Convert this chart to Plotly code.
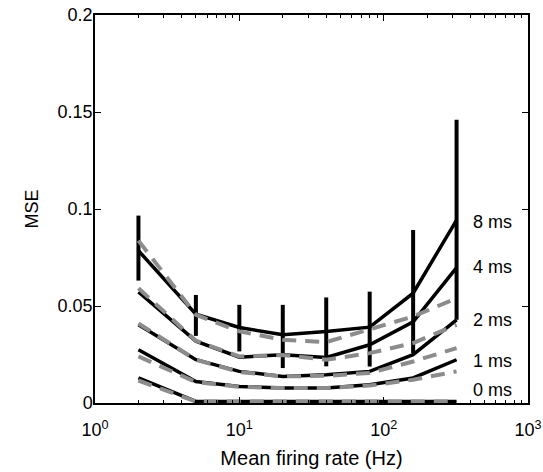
import plotly.graph_objects as go
import numpy as np

# Mean firing rate (Hz)
rate_hz = [2, 5, 10, 20, 40, 80, 160, 320]

# Measured MSE (solid black) for each jitter
mse_8ms = [0.0785, 0.0458, 0.0389, 0.0352, 0.0369, 0.0391, 0.0566, 0.0943]
mse_4ms = [0.0572, 0.0319, 0.0236, 0.0249, 0.0235, 0.0300, 0.0418, 0.0698]
mse_2ms = [0.0403, 0.0223, 0.0163, 0.0137, 0.0146, 0.0163, 0.0249, 0.0429]
mse_1ms = [0.0274, 0.0111, 0.0085, 0.0077, 0.0077, 0.0094, 0.0129, 0.0223]
mse_0ms = [0.0129, 0.0008, 0.0008, 0.0008, 0.0008, 0.0008, 0.0008, 0.0008]

# Model prediction (gray dashed)
fit_8ms = [0.0837, 0.0455, 0.0369, 0.0326, 0.0314, 0.0380, 0.0446, 0.0540]
fit_4ms = [0.0592, 0.0321, 0.0240, 0.0247, 0.0223, 0.0257, 0.0309, 0.0403]
fit_2ms = [0.0410, 0.0223, 0.0160, 0.0137, 0.0140, 0.0155, 0.0214, 0.0283]
fit_1ms = [0.0240, 0.0108, 0.0083, 0.0077, 0.0077, 0.0090, 0.0120, 0.0163]
fit_0ms = [0.0116, 0.0008, 0.0008, 0.0008, 0.0008, 0.0008, 0.0008, 0.0008]

# Error bar extent (8 ms curve)
err_top = [0.0966, 0.0557, 0.0506, 0.0506, 0.0544, 0.0574, 0.0892, 0.1460]
err_bottom = [0.0631, 0.0346, 0.0266, 0.0180, 0.0189, 0.0188, 0.0257, 0.0429]

jitter_labels = ["8 ms", "4 ms", "2 ms", "1 ms", "0 ms"]
label_y = [0.0935, 0.0703, 0.0429, 0.0214, 0.0068]

x_tickvals = [1, 10, 100, 1000]
x_ticktext = ["10<sup>0</sup>", "10<sup>1</sup>", "10<sup>2</sup>", "10<sup>3</sup>"]
y_tickvals = [0, 0.05, 0.1, 0.15, 0.2]
y_ticktext = ["0", "0.05", "0.1", "0.15", "0.2"]

FONT = "Liberation Sans, Arial, Helvetica, sans-serif"
GRAY = "rgb(140,140,140)"

fig = go.Figure()

# error bars
fig.add_trace(go.Scatter(
    x=rate_hz, y=mse_8ms, mode="markers",
    marker=dict(size=1, color="rgba(0,0,0,0)"),
    error_y=dict(type="data", symmetric=False,
                 array=[t - m for t, m in zip(err_top, mse_8ms)],
                 arrayminus=[m - b for m, b in zip(mse_8ms, err_bottom)],
                 color="black", thickness=4, width=0),
    showlegend=False, hoverinfo="skip"))

measured = [mse_8ms, mse_4ms, mse_2ms, mse_1ms, mse_0ms]
fits = [fit_8ms, fit_4ms, fit_2ms, fit_1ms, fit_0ms]

for name, m in zip(jitter_labels, measured):
    fig.add_trace(go.Scatter(x=rate_hz, y=m, mode="lines", name=name,
                             line=dict(color="black", width=3.5),
                             showlegend=False))
for name, f in zip(jitter_labels, fits):
    fig.add_trace(go.Scatter(x=rate_hz, y=f, mode="lines", name=name + " fit",
                             line=dict(color=GRAY, width=4, dash="14px,9px"),
                             showlegend=False))

for txt, yv in zip(jitter_labels, label_y):
    fig.add_annotation(x=np.log10(405), y=yv, text=txt, showarrow=False,
                       xanchor="left", yanchor="middle",
                       font=dict(family=FONT, size=18, color="black"))

minor_vals = [k * 10 ** d for d in range(0, 3) for k in range(2, 10)]

fig.update_xaxes(type="log", range=[0, 3],
                 tickvals=x_tickvals, ticktext=x_ticktext,
                 ticks="inside", ticklen=6, tickwidth=1.2, tickcolor="black",
                 minor=dict(tickvals=minor_vals, ticks="inside", ticklen=3,
                            tickwidth=1, tickcolor="black", showgrid=False),
                 showline=True, linecolor="black", linewidth=1.5,
                 mirror="allticks", showgrid=False, zeroline=False,
                 ticklabelstandoff=10,
                 tickfont=dict(family=FONT, size=18, color="black"),
                 title=dict(text="Mean firing rate (Hz)",
                            font=dict(family=FONT, size=20, color="black"),
                            standoff=12))
fig.update_yaxes(range=[0, 0.2],
                 tickvals=y_tickvals, ticktext=y_ticktext,
                 ticks="inside", ticklen=6, tickwidth=1.2, tickcolor="black",
                 showline=True, linecolor="black", linewidth=1.5,
                 mirror="allticks", showgrid=False, zeroline=False,
                 ticklabelstandoff=-3,
                 tickfont=dict(family=FONT, size=18, color="black"),
                 title=dict(text="MSE",
                            font=dict(family=FONT, size=18, color="black"),
                            standoff=14))

fig.update_layout(width=543, height=472,
                  margin=dict(l=95, r=15, t=15, b=69, autoexpand=False),
                  paper_bgcolor="white", plot_bgcolor="white",
                  showlegend=False)

fig.write_html("out.html")
